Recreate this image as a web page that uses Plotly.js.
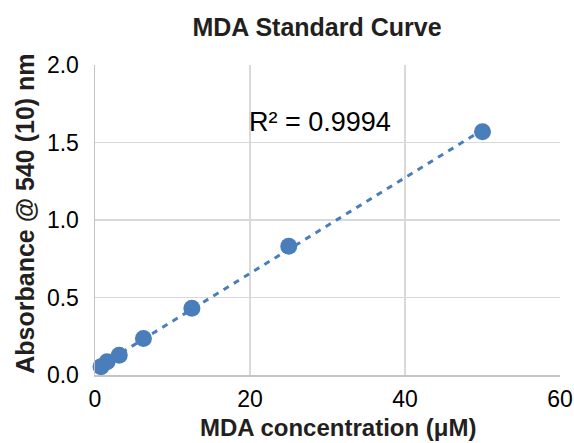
<!DOCTYPE html>
<html>
<head>
<meta charset="utf-8">
<script src="https://cdn.plot.ly/plotly-3.0.1.min.js"></script>
<style>html,body{margin:0;padding:0;background:#fff;}#chart{width:574px;height:443px;}</style>
</head>
<body>
<div id="chart"></div>
<script>
// Data
const concentration = [0.78, 1.56, 3.125, 6.25, 12.5, 25, 50];
const absorbance = [0.054, 0.085, 0.127, 0.235, 0.43, 0.83, 1.57];
const xTicks = [0, 20, 40, 60];
const yTicks = [0.0, 0.5, 1.0, 1.5, 2.0];
const rSquaredLabel = "R² = 0.9994";
const chartTitle = "MDA Standard Curve";
const xTitle = "MDA concentration (μM)";
const yTitle = "Absorbance @ 540 (10) nm";

// Linear least-squares trendline over the data range
const n = concentration.length;
const mx = concentration.reduce((a, b) => a + b, 0) / n;
const my = absorbance.reduce((a, b) => a + b, 0) / n;
let sxy = 0, sxx = 0;
for (let i = 0; i < n; i++) {
  sxy += (concentration[i] - mx) * (absorbance[i] - my);
  sxx += (concentration[i] - mx) ** 2;
}
const slope = sxy / sxx;
const intercept = my - slope * mx;
const trendX = [Math.min(...concentration), Math.max(...concentration)];
const trendY = trendX.map(x => intercept + slope * x);

const blue = '#4a7ebb';
const font = 'Liberation Sans, Arial, sans-serif';
const dark = '#231f20';

const data = [
  {
    x: trendX, y: trendY, mode: 'lines', type: 'scatter',
    line: {color: blue, width: 3, dash: '6px,6px'},
    hoverinfo: 'skip', showlegend: false, cliponaxis: false
  },
  {
    x: concentration, y: absorbance, mode: 'markers', type: 'scatter',
    marker: {color: blue, size: 17, line: {width: 0}},
    showlegend: false, cliponaxis: false
  }
];

const layout = {
  width: 574, height: 443,
  margin: {l: 95, r: 14, t: 65, b: 67.5},
  paper_bgcolor: '#fff', plot_bgcolor: '#fff',
  font: {family: font, color: '#000'},
  title: {
    text: '<b>' + chartTitle + '</b>',
    font: {family: font, size: 25, color: dark},
    x: 317 / 574, xref: 'container', xanchor: 'center',
    y: 1 - 27 / 443, yref: 'container', yanchor: 'middle'
  },
  xaxis: {
    range: [0, 60], tickvals: xTicks, ticktext: xTicks.map(String),
    showgrid: true, gridcolor: '#d9d9d9', gridwidth: 1.5,
    showline: true, linecolor: '#c4c4c4', linewidth: 1.5,
    zeroline: false, ticks: '', ticklabelstandoff: 3,
    tickfont: {family: font, size: 23, color: '#000'}
  },
  yaxis: {
    range: [0, 2], tickvals: yTicks, ticktext: yTicks.map(v => v.toFixed(1)),
    showgrid: true, gridcolor: '#d9d9d9', gridwidth: 1.5,
    showline: true, linecolor: '#c4c4c4', linewidth: 1.5,
    zeroline: false, ticks: '', ticklabelstandoff: 10,
    tickfont: {family: font, size: 23, color: '#000'}
  },
  annotations: [
    {
      text: rSquaredLabel, x: 29, y: 1.633, xref: 'x', yref: 'y',
      showarrow: false, font: {family: font, size: 27, color: '#000'},
      xanchor: 'center', yanchor: 'middle'
    },
    {
      text: '<b>' + xTitle + '</b>', xref: 'paper', yref: 'paper',
      x: (338 - 95) / 465, y: (375.5 - 428.5) / 310.5,
      showarrow: false, font: {family: font, size: 24, color: dark},
      xanchor: 'center', yanchor: 'middle'
    },
    {
      text: '<b>' + yTitle + '</b>', xref: 'paper', yref: 'paper',
      x: (25 - 95) / 465, y: (375.5 - 214) / 310.5, textangle: -90,
      showarrow: false, font: {family: font, size: 25, color: dark},
      xanchor: 'center', yanchor: 'middle'
    }
  ]
};

Plotly.newPlot('chart', data, layout, {staticPlot: true, displayModeBar: false});
</script>
</body>
</html>
